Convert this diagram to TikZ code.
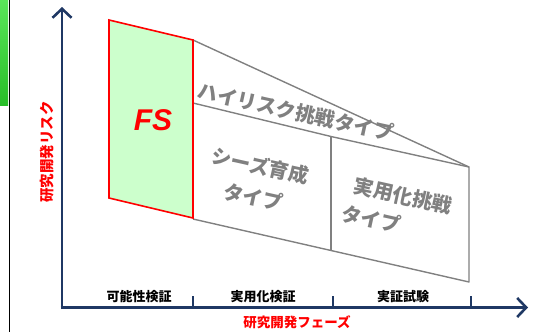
\documentclass[tikz,border=0pt]{standalone}
\usepackage{fontspec}
\newfontfamily\cjk{Noto Sans CJK JP}[BoldFont={Noto Sans CJK JP Black}]
\newfontfamily\lat{Liberation Sans}
\usetikzlibrary{arrows.meta}
\definecolor{navy}{RGB}{31,56,100}
\definecolor{fsgreen}{RGB}{204,255,204}
\definecolor{gr}{RGB}{128,128,128}
\definecolor{fsred}{RGB}{255,0,0}
\tikzset{
  axis/.style={draw=navy,line width=2.6pt,line cap=butt},
  tip/.style={-{Straight Barb[length=9pt,width=19pt,line width=2.6pt]}},
  gline/.style={draw=gr,line width=1.4pt,line join=round},
  phase/.style={font=\cjk\bfseries\fontsize{13}{15}\selectfont,text=black,inner sep=0pt},
  glabel/.style={font=\cjk\bfseries\fontsize{20}{23}\selectfont,text=gr,inner sep=0pt,rotate=-12.5},
  rlabel/.style={font=\cjk\bfseries\fontsize{13.5}{15}\selectfont,text=fsred,inner sep=0pt},
}
\begin{document}
\begin{tikzpicture}[x=1pt,y=-1pt]
\useasboundingbox (0,0) rectangle (544,332);
% left decoration
\shade[top color={rgb,255:red,90;green,230;blue,90},bottom color={rgb,255:red,40;green,190;blue,40}] (0,0) rectangle (8,105);
\draw[black,line width=1.4pt] (9.5,0) -- (9.5,332);
% axes
\coordinate (ybot) at (62,309);
\coordinate (ytop) at (62,7);
\coordinate (xbeg) at (60.7,307.5);
\coordinate (xend) at (528,307.5);
\draw[axis,tip] (ybot) -- (ytop);
\draw[axis,tip] (xbeg) -- (xend);
\coordinate (t1) at (193,307.5);
\coordinate (t1b) at (193,296);
\coordinate (t2) at (333,307.5);
\coordinate (t2b) at (333,296);
\coordinate (t3) at (471,307.5);
\coordinate (t3b) at (471,296);
\draw[axis] (t1) -- (t1b);
\draw[axis] (t2) -- (t2b);
\draw[axis] (t3) -- (t3b);
% gray shape
\coordinate (A) at (193,40);
\coordinate (B) at (469,167);
\coordinate (C) at (469,282);
\coordinate (D) at (193,219);
\coordinate (M) at (193,103);
\coordinate (Mt) at (331,136.5);
\coordinate (Mb) at (331,250.5);
\draw[gline] (A) -- (B) -- (C) -- (D);
\draw[gline] (M) -- (Mt) -- (B);
\draw[gline] (Mt) -- (Mb);
% FS parallelogram
\draw[draw=fsred,fill=fsgreen,line width=1.6pt,line join=miter] (109,20) -- (193,40) -- (193,218) -- (109,198) -- cycle;
\node[text=fsred,font=\lat\bfseries\itshape\fontsize{30}{34}\selectfont,inner sep=0pt] (fs) at (153,120) {FS};
% gray labels
\node[glabel] (hr) at (296,112) {ハイリスク挑戦タイプ};
\node[glabel] (sz1) at (260,166) {シーズ育成};
\node[glabel] (sz2) at (253,197) {タイプ};
\node[glabel] (jy1) at (403,196) {実用化挑戦};
\node[glabel] (jy2) at (371,219) {タイプ};
% phase labels
\node[phase] (p1) at (139,297) {可能性検証};
\node[phase] (p2) at (263,297) {実用化検証};
\node[phase] (p3) at (403,297) {実証試験};
% axis titles
\node[rlabel] (xl) at (297,322) {研究開発フェーズ};
\node[rlabel,font=\cjk\bfseries\fontsize{14.5}{16}\selectfont,rotate=90] (yl) at (47,152) {研究開発リスク};
\end{tikzpicture}
\end{document}
